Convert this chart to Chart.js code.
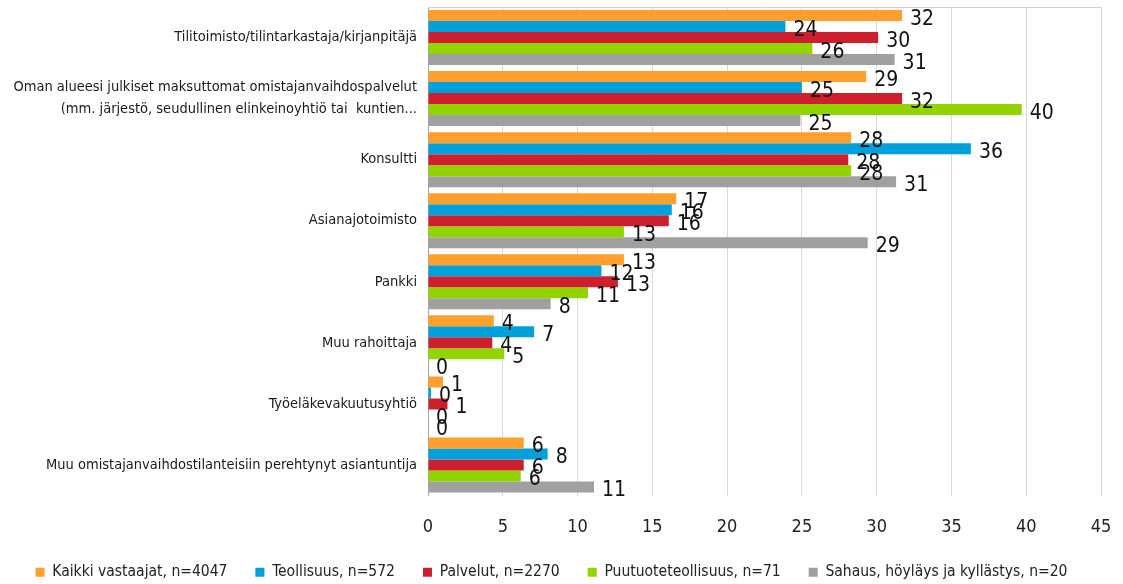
<!DOCTYPE html>
<html>
<head>
<meta charset="utf-8">
<script src="https://cdn.jsdelivr.net/npm/chart.js@4/dist/chart.umd.min.js"></script>
<style>
  html, body { margin: 0; padding: 0; background: #fff; }
  #wrap { width: 1123px; height: 584px; position: relative; }
</style>
</head>
<body>
<div id="wrap"><canvas id="chart"></canvas></div>
<script>
const categories = [
  'Tilitoimisto/tilintarkastaja/kirjanpitäjä',
  ['Oman alueesi julkiset maksuttomat omistajanvaihdospalvelut', '(mm. järjestö, seudullinen elinkeinoyhtiö tai  kuntien...'],
  'Konsultti',
  'Asianajotoimisto',
  'Pankki',
  'Muu rahoittaja',
  'Työeläkevakuutusyhtiö',
  'Muu omistajanvaihdostilanteisiin perehtynyt asiantuntija'
];
const seriesNames = ['Kaikki vastaajat, n=4047', 'Teollisuus, n=572', 'Palvelut, n=2270', 'Puutuoteteollisuus, n=71', 'Sahaus, höyläys ja kyllästys, n=20'];
const kaikki = [31.7, 29.3, 28.3, 16.6, 13.1, 4.4, 1.0, 6.4];
const teollisuus = [23.9, 25.0, 36.3, 16.3, 11.6, 7.1, 0.2, 8.0];
const palvelut = [30.1, 31.7, 28.1, 16.1, 12.7, 4.3, 1.3, 6.4];
const puutuote = [25.7, 39.7, 28.3, 13.1, 10.7, 5.1, 0, 6.2];
const sahaus = [31.2, 24.9, 31.3, 29.4, 8.2, 0, 0, 11.1];
const xTicks = [0, 5, 10, 15, 20, 25, 30, 35, 40, 45];

const colors = ['#FF9F2E', '#00A0DA', '#CE1F2F', '#92D400', '#A0A0A0'];
const font = '"DejaVu Sans Condensed", "Open Sans", sans-serif';

const valueLabels = {
  id: 'valueLabels',
  afterDatasetsDraw(chart) {
    const ctx = chart.ctx;
    ctx.save();
    ctx.font = '21px ' + font;
    ctx.fillStyle = '#111';
    ctx.textBaseline = 'middle';
    ctx.textAlign = 'left';
    chart.data.datasets.forEach((ds, i) => {
      chart.getDatasetMeta(i).data.forEach((bar, j) => {
        ctx.fillText(String(Math.round(ds.data[j])), bar.x + 8, bar.y + 4);
      });
    });
    ctx.restore();
  }
};

const topFrame = {
  id: 'topFrame',
  beforeDatasetsDraw(chart) {
    const { ctx, chartArea } = chart;
    ctx.save();
    ctx.strokeStyle = '#d0d0d0';
    ctx.lineWidth = 1;
    ctx.beginPath();
    ctx.moveTo(chartArea.left, chartArea.top + 0.5);
    ctx.lineTo(chartArea.right, chartArea.top + 0.5);
    ctx.stroke();
    ctx.restore();
  }
};

const data = [kaikki, teollisuus, palvelut, puutuote, sahaus];

new Chart(document.getElementById('chart'), {
  type: 'bar',
  data: {
    labels: categories,
    datasets: data.map((values, i) => ({
      label: seriesNames[i],
      data: values,
      backgroundColor: colors[i],
      borderWidth: 0,
      barPercentage: 1,
      categoryPercentage: 0.9
    }))
  },
  options: {
    indexAxis: 'y',
    responsive: true,
    maintainAspectRatio: false,
    animation: false,
    layout: { padding: { left: 2, right: 22, top: 7, bottom: -6 } },
    plugins: {
      legend: {
        position: 'bottom',
        labels: {
          font: { family: font, size: 15.5 },
          color: '#222',
          boxWidth: 9,
          boxHeight: 9,
          padding: 28
        }
      },
      tooltip: { enabled: false }
    },
    scales: {
      x: {
        min: 0,
        max: 45,
        afterBuildTicks: (scale) => { scale.ticks = xTicks.map((v) => ({ value: v })); },
        afterFit: (scale) => { scale.height = 41; scale.paddingLeft = 0; scale.paddingRight = 0; },
        ticks: { font: { family: font, size: 18 }, color: '#222', padding: 21 },
        grid: { color: '#d9d9d9', drawTicks: false },
        border: { display: false }
      },
      y: {
        afterFit: (scale) => { scale.width = 426; scale.paddingTop = 0; scale.paddingBottom = 0; },
        ticks: { font: { family: font, size: 14.5, lineHeight: 1.5 }, color: '#1a1a1a', padding: 11, autoSkip: false },
        grid: { display: false, drawTicks: false },
        border: { display: true, color: '#a6a6a6' }
      }
    }
  },
  plugins: [valueLabels, topFrame]
});
</script>
</body>
</html>
